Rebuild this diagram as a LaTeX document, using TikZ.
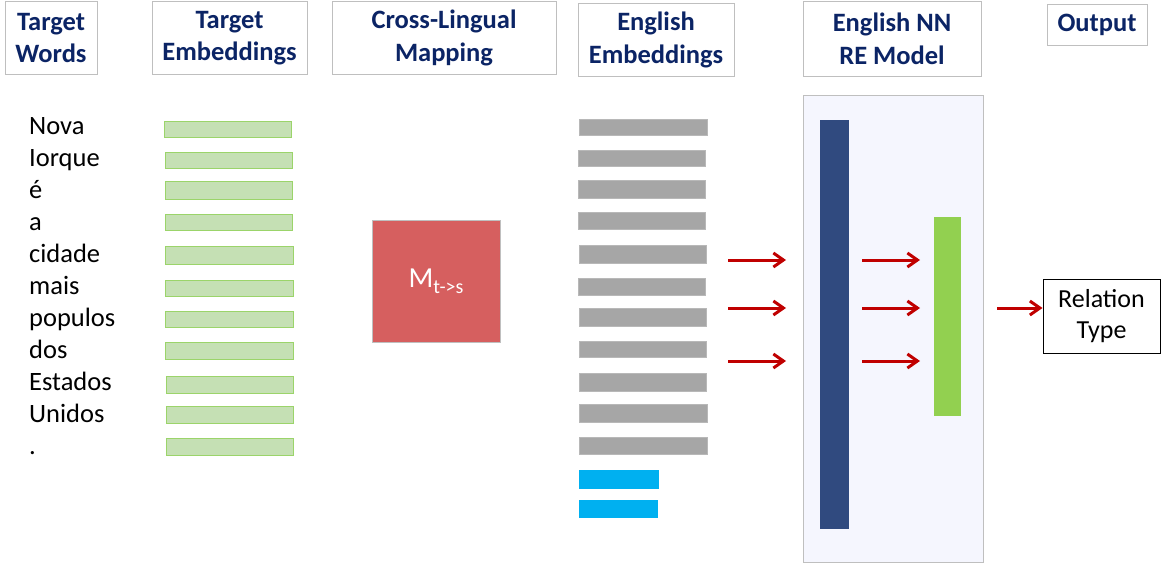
\documentclass[tikz,border=0pt]{standalone}
\usepackage{fontspec}
\setmainfont{Carlito}
\usetikzlibrary{arrows.meta}
\definecolor{navy}{HTML}{0B2465}
\definecolor{hdrline}{HTML}{BFBFBF}
\definecolor{gfill}{HTML}{C5E0B4}
\definecolor{gline}{HTML}{9BD46A}
\definecolor{grey}{HTML}{A6A6A6}
\definecolor{cyanb}{HTML}{00B0F0}
\definecolor{mred}{HTML}{D65F5F}
\definecolor{panel}{HTML}{F5F6FE}
\definecolor{dblue}{HTML}{304A7F}
\definecolor{lgreen}{HTML}{92D050}
\definecolor{arr}{HTML}{C00000}
\tikzset{
  hdr/.style={draw=hdrline, line width=1pt, fill=white, align=center, inner sep=0pt,
    text=navy, font=\bfseries\fontsize{26.5}{32.5}\selectfont},
  word/.style={anchor=base west, inner sep=0pt, font=\fontsize{26.5}{32}\selectfont},
  gbar/.style={fill=gfill, draw=gline, line width=0.8pt},
  ebar/.style={fill=grey, draw=grey!80!white, line width=0.4pt},
  cbar/.style={fill=cyanb, draw=cyanb},
  redarrow/.style={draw=arr, line width=3pt, -{Straight Barb[length=10pt,width=14pt,line width=3pt]}},
}
\begin{document}
\begin{tikzpicture}[x=1pt,y=-1pt]
\useasboundingbox (0,0) rectangle (1166,567);
% headers
\node[hdr, minimum width=92pt, minimum height=73pt] (h1) at (51,38) {Target\\Words};
\node[hdr, minimum width=155pt, minimum height=73pt] (h2) at (229.5,38) {Target\\Embeddings};
\node[hdr, minimum width=224pt, minimum height=73pt] (h3) at (444,38) {Cross-Lingual\\Mapping};
\node[hdr, minimum width=156pt, minimum height=73pt] (h4) at (656,40) {English\\Embeddings};
\node[hdr, minimum width=178pt, minimum height=75pt] (h5) at (892,39) {English NN\\RE Model};
\node[hdr, minimum width=100pt, minimum height=41pt] (h6) at (1097,25) {Output};
% words
\foreach \w [count=\i from 0] in {Nova,Iorque,é,a,cidade,mais,populos,dos,Estados,Unidos,.}{
  \node[word] (w\i) at (29,{134+32.05*\i}) {\w};
}
% target embeddings
\foreach \t/\b/\l/\r in {121/137/164/291,152/168/165/292,181/199/165/292,214/230/165/292,246/264/165/293,280/296/165/293,311/327/165/293,342/359/165/293,376/393/166/293,406/423/166/293,438/455/166/293}{
  \draw[gbar] (\l,\t) rectangle (\r,\b);
}
% mapping
\node[fill=mred, draw=hdrline, line width=0.8pt, minimum width=128pt, minimum height=122pt, inner sep=0pt,
  text=white] (M) at (436,281) {\fontsize{29}{32}\selectfont M\raisebox{-6pt}{\fontsize{20}{22}\selectfont t->s}};
% english embeddings
\foreach \t/\b/\l/\r in {119/135/579/707,150/166/578/705,180/198/578/705,212/229/578/705,245/263/579/706,278/295/578/705,308/326/579/706,341/357/579/706,373/391/579/706,404/422/579/707,437/454/579/707}{
  \fill[ebar] (\l,\t) rectangle (\r,\b);
}
\fill[cbar] (579,470) rectangle (658,488);
\fill[cbar] (579,500) rectangle (657,517);
% model panel
\node[draw=hdrline, fill=panel, line width=1pt, minimum width=180pt, minimum height=466pt, inner sep=0pt] (P) at (893,329) {};
\node[fill=dblue, minimum width=29pt, minimum height=409pt, inner sep=0pt] (D) at (834.5,324.5) {};
\node[fill=lgreen, minimum width=27pt, minimum height=199pt, inner sep=0pt] (G) at (947.5,316.5) {};
% output
\node[draw=black, line width=1pt, minimum width=117pt, minimum height=74pt, inner sep=0pt, align=center,
  font=\fontsize{26}{31}\selectfont] (R) at (1101.5,316) {Relation\\Type};
% arrows
\foreach \y [count=\i] in {260,308,361}{
  \coordinate (la\i) at (728,\y);
  \coordinate (lb\i) at (786,\y);
  \coordinate (ra\i) at (862,\y);
  \coordinate (rb\i) at (920,\y);
  \draw[redarrow] (la\i) -- (lb\i);
  \draw[redarrow] (ra\i) -- (rb\i);
}
\coordinate (oa) at (997,308);
\draw[redarrow] (oa) -- (oa -| R.west);
\end{tikzpicture}
\end{document}
